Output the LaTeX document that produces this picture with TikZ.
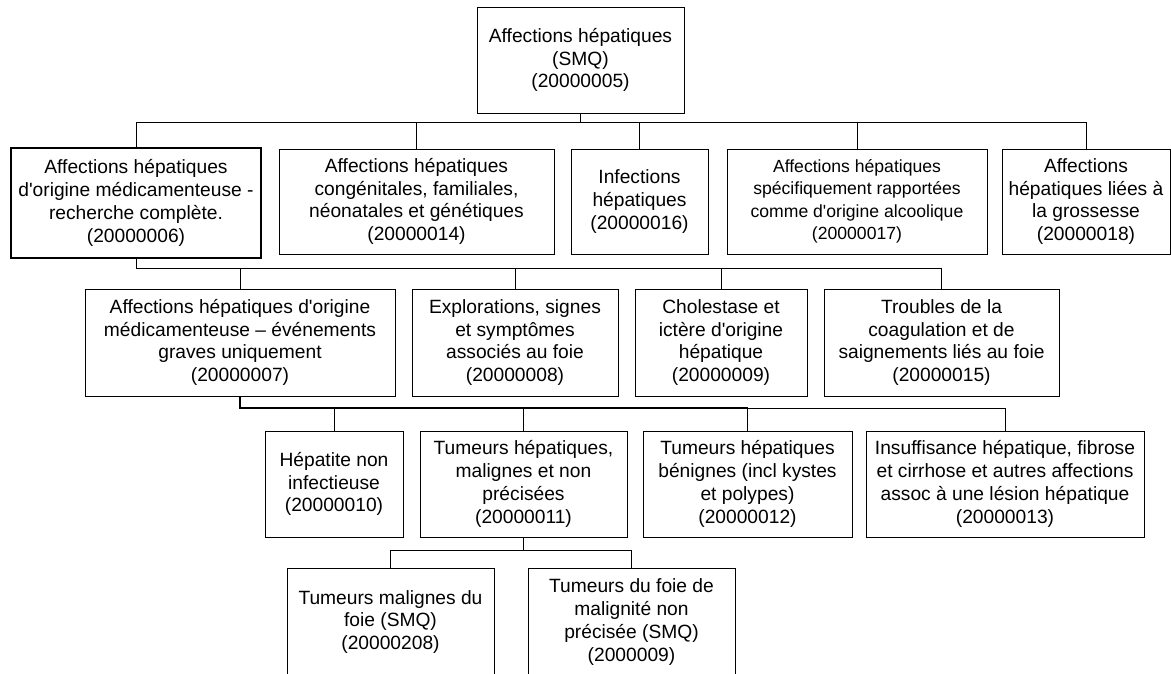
\documentclass[tikz,border=0pt]{standalone}
\usepackage{fontspec}
\setmainfont{Liberation Sans}[Ligatures=TeXOff]
\begin{document}
\begin{tikzpicture}[x=1pt,y=-1pt,
  box/.style={draw=black,line width=1pt,align=center,inner sep=0pt,
    font=\fontsize{19.2}{22.8}\selectfont},
  link/.style={draw=black,line width=1pt},
  thicklink/.style={draw=black,line width=2pt}]
\useasboundingbox (0,0) rectangle (1171,673);
\clip (0,0) rectangle (1171,673);
\fill[white] (0,0) rectangle (1171,673);
% level 0
\node[box,minimum width=207pt,minimum height=106pt] (top) at (580.5,60) {Affections hépatiques\\(SMQ)\\(20000005)};
% level 1
\node[box,line width=2.5pt,minimum width=250pt,minimum height=110pt] (a1) at (136,203) {Affections hépatiques\\d'origine médicamenteuse -\\recherche complète.\\(20000006)};
\node[box,minimum width=275pt,minimum height=105pt] (a2) at (416.5,201.5) {Affections hépatiques\\congénitales, familiales,\\néonatales et génétiques\\(20000014)};
\node[box,minimum width=137pt,minimum height=105pt] (a3) at (639.5,201.5) {Infections\\hépatiques\\(20000016)};
\node[box,minimum width=260pt,minimum height=105pt,font=\fontsize{17.6}{22.5}\selectfont] (a4) at (857,201.5) {Affections hépatiques\\spécifiquement rapportées\\comme d'origine alcoolique\\(20000017)};
\node[box,minimum width=168pt,minimum height=105pt] (a5) at (1086,201.5) {Affections\\hépatiques liées à\\la grossesse\\(20000018)};
% level 2
\node[box,minimum width=310pt,minimum height=107pt] (b1) at (240,342.5) {Affections hépatiques d'origine\\médicamenteuse – événements\\graves uniquement\\(20000007)};
\node[box,minimum width=206pt,minimum height=107pt] (b2) at (515,342.5) {Explorations, signes\\et symptômes\\associés au foie\\(20000008)};
\node[box,minimum width=172pt,minimum height=107pt] (b3) at (721,342.5) {Cholestase et\\ictère d'origine\\hépatique\\(20000009)};
\node[box,minimum width=235pt,minimum height=107pt] (b4) at (941.5,342.5) {Troubles de la\\coagulation et de\\saignements liés au foie\\(20000015)};
% level 3
\node[box,minimum width=138pt,minimum height=106pt] (c1) at (334,484) {Hépatite non\\infectieuse\\(20000010)};
\node[box,minimum width=207pt,minimum height=106pt] (c2) at (523.5,484) {Tumeurs hépatiques,\\malignes et non\\précisées\\(20000011)};
\node[box,minimum width=209pt,minimum height=106pt] (c3) at (747.5,484) {Tumeurs hépatiques\\bénignes (incl kystes\\et polypes)\\(20000012)};
\node[box,minimum width=278pt,minimum height=106pt] (c4) at (1005,484) {Insuffisance hépatique, fibrose\\et cirrhose et autres affections\\assoc à une lésion hépatique\\(20000013)};
% level 4
\node[box,minimum width=207pt,minimum height=108pt] (d1) at (390.5,622) {Tumeurs malignes du\\foie (SMQ)\\(20000208)};
\node[box,minimum width=207pt,minimum height=108pt] (d2) at (631.5,622) {Tumeurs du foie de\\malignité non\\précisée (SMQ)\\(2000009)};
% bus coordinates
\coordinate (bus1) at (0,122);
\coordinate (bus2) at (0,268);
\coordinate (bus3) at (0,408);
\coordinate (bus4) at (0,550);
% connectors level 0 -> 1
\draw[line width=1.8pt] (top.south) -- (top.south |- bus1);
\foreach \c in {a1,a2,a3,a4,a5}{
  \draw[link] (top.south |- bus1) -| (\c.north);
}
% connectors level 1 -> 2
\foreach \c in {b1,b2,b3,b4}{
  \draw[link] (a1.south) |- (\c.north |- bus2) -- (\c.north);
}
% connectors level 2 -> 3
\draw[thicklink] (b1.south) |- (c3.north |- bus3);
\foreach \c in {c1,c2,c3,c4}{
  \draw[link] (b1.south |- bus3) -| (\c.north);
}
% connectors level 3 -> 4
\foreach \c in {d1,d2}{
  \draw[link] (c2.south) |- (\c.north |- bus4) -- (\c.north);
}
\end{tikzpicture}
\end{document}
